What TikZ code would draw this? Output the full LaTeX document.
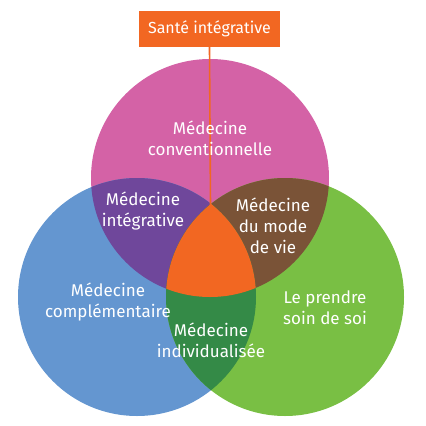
\documentclass[tikz,border=0pt]{standalone}
\usepackage{fontspec}
\setmainfont{Fira Sans}
\definecolor{cpink}{HTML}{D462A6}
\definecolor{cblue}{HTML}{6496D0}
\definecolor{cgreen}{HTML}{79BF44}
\definecolor{cpurple}{HTML}{6F479B}
\definecolor{cbrown}{HTML}{7A5337}
\definecolor{cdkgreen}{HTML}{348A47}
\definecolor{corange}{HTML}{F26722}
\begin{document}
\begin{tikzpicture}[x=1pt,y=-1pt,
  lbl/.style={text=white,font=\fontsize{17}{21}\selectfont,align=center,inner sep=0pt},
  titlebox/.style={fill=corange,text=white,font=\fontsize{16}{18}\selectfont,minimum width=141pt,minimum height=36pt,inner sep=0pt},
  link/.style={draw=corange,line width=1.6pt}]
\useasboundingbox (0,0) rectangle (426,426);
\def\Pc{(210,178) circle (119pt)}
\def\Bc{(137,297) circle (119pt)}
\def\Gc{(285,297) circle (119pt)}
% base circles
\fill[cpink] \Pc;
\fill[cblue] \Bc;
\fill[cgreen] \Gc;
% pairwise intersections
\begin{scope}\clip \Pc; \fill[cpurple] \Bc; \end{scope}
\begin{scope}\clip \Pc; \fill[cbrown] \Gc; \end{scope}
\begin{scope}\clip \Bc; \fill[cdkgreen] \Gc; \end{scope}
% triple intersection
\begin{scope}\clip \Pc; \clip \Bc; \fill[corange] \Gc; \end{scope}
% title and connector
\node[titlebox] (title) at (209.5,29) {Santé intégrative};
\coordinate (core) at (210.5,206);
\draw[link] (title.south) -- (core);
% labels
\node[lbl] (conv) at (210,138) {Médecine\\conventionnelle};
\node[lbl] (integ) at (143,211) {Médecine\\intégrative};
\node[lbl] (compl) at (108,302) {Médecine\\complémentaire};
\node[lbl] (indiv) at (211,340) {Médecine\\individualisée};
\node[lbl] (mode) at (273,226) {Médecine\\du mode\\de vie};
\node[lbl] (soin) at (325,308) {Le prendre\\soin de soi};
\end{tikzpicture}
\end{document}
